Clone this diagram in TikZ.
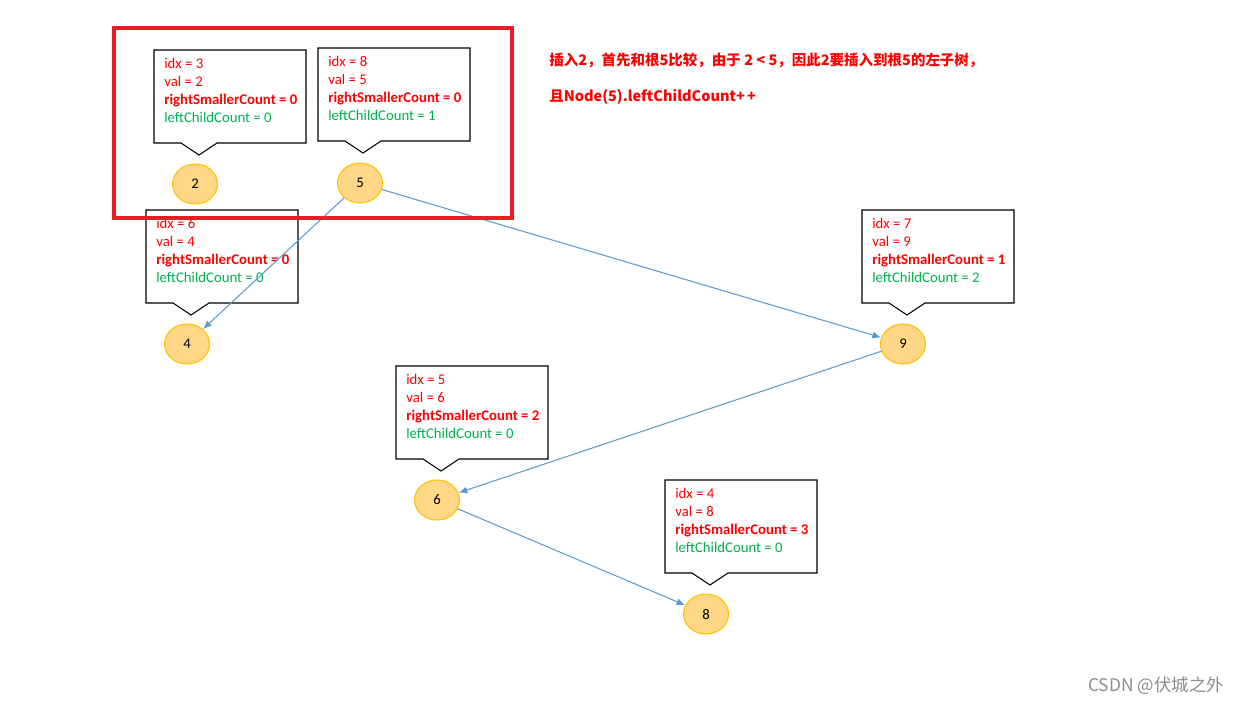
\documentclass[tikz,border=0pt]{standalone}
\usepackage{fontspec}
\setmainfont{Carlito}
\newfontfamily\cjk{Noto Sans CJK SC}
\usetikzlibrary{shapes.geometric,arrows.meta}
\definecolor{keyfill}{RGB}{255,215,135}
\definecolor{keyline}{RGB}{255,192,0}
\definecolor{linkblue}{RGB}{91,155,213}
\definecolor{infored}{RGB}{255,0,0}
\definecolor{infogreen}{RGB}{0,176,80}
\definecolor{framered}{RGB}{237,28,36}
\tikzset{
  keynode/.style={ellipse,draw=keyline,fill=keyfill,line width=0.6pt,minimum width=0.9cm,minimum height=0.8cm,inner sep=0pt,font=\fontsize{8.4}{10}\selectfont},
  infotext/.style={anchor=north west,align=left,inner sep=0pt,font=\fontsize{8.4}{10.25}\selectfont},
  boxline/.style={draw=black,line width=0.6pt},
  notetext/.style={anchor=west,inner sep=0pt,text=infored,font=\cjk\bfseries\fontsize{8.25}{10}\selectfont},
}
\begin{document}
\begin{tikzpicture}[x=0.02cm,y=-0.02cm,>={Latex[length=5pt,width=4pt]}]
    \useasboundingbox (0,0) rectangle (1240,704);
    \foreach \n/\x/\y/\i/\v/\r/\l in {b2/154/50/3/2/0/0, b5/318/48/8/5/0/1, b4/146/210/6/4/0/0,
                                      b9/862/210/7/9/1/2, b6/396/366/5/6/2/0, b8/665/480/4/8/3/0} {
        \coordinate (\n) at (\x,\y);
        \draw[boxline] (\n) -- ++(0,93) -- ++(27,0) -- ++(18,12) -- ++(18,-12) -- ++(89,0) -- ++(0,-93) -- cycle;
        \node[infotext] (\n t) at ([shift={+(10,8)}]\n) {\textcolor{infored}{idx = \i}\\
            \textcolor{infored}{val = \v}\\
            \textcolor{infored}{\bfseries rightSmallerCount = \r}\\
            \textcolor{infogreen}{leftChildCount = \l}};
    }
    \node[keynode] (n2) at (195,184) {2};
    \node[keynode] (n5) at (360,183) {5};
    \node[keynode] (n4) at (187,344) {4};
    \node[keynode] (n9) at (903,344) {9};
    \node[keynode] (n6) at (437,500) {6};
    \node[keynode] (n8) at (706,614) {8};
    \draw[->,linkblue,line width=0.6pt] (n5)--(n4);
    \draw[->,linkblue,line width=0.6pt] (n5)--(n9);
    \draw[->,linkblue,line width=0.6pt] (n9)--(n6);
    \draw[->,linkblue,line width=0.6pt] (n6)--(n8);
    \draw[framered,line width=2.3pt] (114,28) rectangle (512,218);
    \node[notetext] (note1) at (549,60) {插入2，首先和根5比较，由于 2 < 5，因此2要插入到根5的左子树，};
    \node[notetext] (note2) at (549,97) {且Node(5).leftChildCount+\,+};
    \node[anchor=west,inner sep=0pt,text=black!45,font=\cjk\fontsize{9.9}{11}\selectfont] (mark) at (1088,686) {CSDN @伏城之外};
\end{tikzpicture}
\end{document}
